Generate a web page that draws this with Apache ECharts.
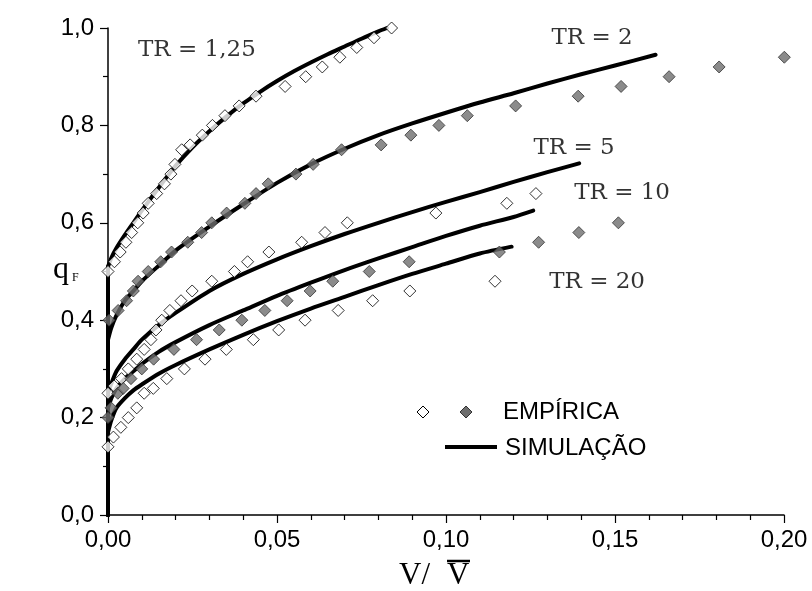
<!DOCTYPE html>
<html><head><meta charset="utf-8">
<script src="https://cdn.jsdelivr.net/npm/echarts@6/dist/echarts.min.js"></script>
<style>html,body{margin:0;padding:0;background:#fff}#c{width:812px;height:591px}</style>
</head><body><div id="c"></div>
<script>
// Empirical data (V/Vbar, qF)
const emp125V = [0,0.0019,0.0036,0.0053,0.0070,0.0088,0.0104,0.0119,0.0144,0.0167,0.0186,0.0198,0.0218,0.0243,0.0279,0.0309,0.0346,0.0388,0.0438,0.0524,0.0585,0.0634,0.0686,0.0736,0.0787,0.0839];
const emp125Q = [0.50,0.52,0.54,0.56,0.58,0.60,0.62,0.64,0.66,0.68,0.70,0.72,0.75,0.76,0.78,0.80,0.82,0.84,0.86,0.88,0.90,0.92,0.94,0.96,0.98,1.00];
const emp2V = [0.0003,0.0030,0.0055,0.0075,0.0089,0.0119,0.0156,0.0188,0.0236,0.0277,0.0307,0.0351,0.0405,0.0438,0.0474,0.0556,0.0607,0.0691,0.0808,0.0896,0.0979,0.1063,0.1206,0.1391,0.1518,0.1660,0.1808,0.2001];
const emp2Q = [0.40,0.42,0.44,0.46,0.48,0.50,0.52,0.54,0.56,0.58,0.60,0.62,0.64,0.66,0.68,0.70,0.72,0.75,0.76,0.78,0.80,0.82,0.84,0.86,0.88,0.90,0.92,0.94];
const emp5V = [0,0.0018,0.0040,0.0060,0.0085,0.0107,0.0127,0.0142,0.0159,0.0183,0.0216,0.0249,0.0307,0.0374,0.0413,0.0476,0.0573,0.0642,0.0708,0.0970,0.1180,0.1266];
const emp5Q = [0.25,0.265,0.28,0.30,0.32,0.34,0.36,0.38,0.40,0.42,0.44,0.46,0.48,0.50,0.52,0.54,0.56,0.58,0.60,0.62,0.64,0.66];
const emp10V = [0,0.0009,0.0029,0.0045,0.0068,0.0100,0.0135,0.0195,0.0262,0.0329,0.0396,0.0464,0.0530,0.0598,0.0665,0.0773,0.0891,0.1158,0.1274,0.1393,0.1510];
const emp10Q = [0.20,0.22,0.25,0.26,0.28,0.30,0.32,0.34,0.36,0.38,0.40,0.42,0.44,0.46,0.48,0.50,0.52,0.54,0.56,0.58,0.60];
const emp20V = [0,0.0016,0.0038,0.0060,0.0085,0.0107,0.0134,0.0174,0.0226,0.0287,0.0350,0.0430,0.0505,0.0583,0.0681,0.0783,0.0893,0.1145];
const emp20Q = [0.14,0.16,0.18,0.20,0.22,0.25,0.26,0.28,0.30,0.32,0.34,0.36,0.38,0.40,0.42,0.44,0.46,0.48];

// Simulation curves (each rises vertically from qF = 0 at V = 0 to its first value)
const sim125V = [0,0.001,0.0025,0.005,0.0075,0.010,0.015,0.020,0.025,0.030,0.035,0.040,0.045,0.050,0.055,0.060,0.065,0.070,0.075,0.080,0.0825];
const sim125Q = [0.51,0.528,0.548,0.575,0.600,0.625,0.672,0.717,0.755,0.788,0.818,0.845,0.869,0.891,0.911,0.929,0.946,0.962,0.978,0.993,1.0];
const sim2V = [0,0.001,0.0025,0.005,0.0075,0.010,0.015,0.020,0.030,0.040,0.050,0.060,0.070,0.080,0.090,0.100,0.110,0.120,0.130,0.140,0.150,0.162];
const sim2Q = [0.36,0.385,0.41,0.44,0.46,0.48,0.512,0.543,0.592,0.638,0.682,0.720,0.752,0.780,0.804,0.826,0.847,0.866,0.886,0.905,0.923,0.945];
const sim5V = [0,0.001,0.0025,0.005,0.0075,0.010,0.015,0.020,0.030,0.040,0.050,0.060,0.070,0.080,0.090,0.100,0.110,0.120,0.130,0.1394];
const sim5Q = [0.25,0.27,0.295,0.32,0.34,0.36,0.39,0.415,0.46,0.495,0.525,0.552,0.577,0.600,0.622,0.643,0.663,0.684,0.704,0.722];
const sim10V = [0,0.001,0.0025,0.005,0.0075,0.010,0.015,0.020,0.030,0.040,0.050,0.060,0.070,0.080,0.090,0.100,0.110,0.120,0.1258];
const sim10Q = [0.22,0.24,0.26,0.28,0.295,0.31,0.335,0.355,0.39,0.42,0.45,0.477,0.503,0.527,0.55,0.573,0.594,0.612,0.625];
const sim20V = [0,0.001,0.0025,0.005,0.0075,0.010,0.015,0.020,0.030,0.040,0.050,0.060,0.070,0.080,0.090,0.100,0.110,0.1194];
const sim20Q = [0.17,0.195,0.22,0.24,0.256,0.268,0.29,0.308,0.34,0.37,0.398,0.424,0.448,0.472,0.495,0.516,0.537,0.551];

// Labels
const yTicks = ['0,0','0,2','0,4','0,6','0,8','1,0'];
const xTicks = ['0,00','0,05','0,10','0,15','0,20'];
const curveLabels = [
  {text:'TR = 1,25', x:0.0263, y:0.955},
  {text:'TR = 2', x:0.1432, y:0.979},
  {text:'TR = 5', x:0.1379, y:0.754},
  {text:'TR = 10', x:0.1521, y:0.661},
  {text:'TR = 20', x:0.1447, y:0.478}
];
const legendTexts = ['EMPÍRICA','SIMULAÇÃO'];

const zip = (a,b)=>a.map((v,i)=>[v,b[i]]);
const openStyle = {color:'#ffffff', borderColor:'#000000', borderWidth:1};
const grayStyle = {color:'#6e6e6e', borderColor:'#333333', borderWidth:1};
function scat(v,q,st){return {type:'scatter',data:zip(v,q),symbol:'diamond',symbolSize:[12,12],itemStyle:st,clip:false,z:3,silent:true};}
function line(v,q){return [
  {type:'line',data:[[v[0],0],[v[0],q[0]]],showSymbol:false,lineStyle:{color:'#000',width:4,cap:'round'},z:2,silent:true},
  {type:'line',data:zip(v,q),showSymbol:false,smooth:0.25,lineStyle:{color:'#000',width:4,cap:'round',join:'round'},z:2,silent:true,clip:false}
];}
function diamond(cx,cy,fill,stroke){return {type:'polygon',shape:{points:[[cx,cy-6],[cx+6,cy],[cx,cy+6],[cx-6,cy]]},style:{fill:fill,stroke:stroke,lineWidth:1}};}

const chart = echarts.init(document.getElementById('c'),null,{renderer:'canvas'});
const series = [].concat(
  line(sim125V,sim125Q), line(sim2V,sim2Q), line(sim5V,sim5Q), line(sim10V,sim10Q), line(sim20V,sim20Q),
  [scat(emp125V,emp125Q,openStyle), scat(emp2V,emp2Q,grayStyle), scat(emp5V,emp5Q,openStyle),
  scat(emp10V,emp10Q,grayStyle), scat(emp20V,emp20Q,openStyle),
  {type:'scatter',data:curveLabels.map(l=>[l.x,l.y,l.text]),symbolSize:0,silent:true,
   label:{show:true,position:'inside',formatter:p=>p.data[2],fontFamily:'DejaVu Serif',fontSize:23,color:'#000'}}]
);
chart.setOption({
  animation:false,
  backgroundColor:'#fff',
  grid:{left:108,right:28,top:28,bottom:76},
  xAxis:{type:'value',min:0,max:0.2,interval:0.05,
    axisLine:{lineStyle:{color:'#000',width:1.5}},
    axisTick:{inside:false,length:8,lineStyle:{color:'#000',width:1.2}},
    minorTick:{show:true,splitNumber:5,length:5,lineStyle:{color:'#000',width:1.2}},
    splitLine:{show:false},
    axisLabel:{margin:13,fontSize:24,fontFamily:'Liberation Sans',color:'#000',formatter:v=>xTicks[Math.round(v/0.05)]}},
  yAxis:{type:'value',min:0,max:1,interval:0.2,
    axisLine:{lineStyle:{color:'#000',width:1.5}},
    axisTick:{inside:false,length:8,lineStyle:{color:'#000',width:1.2}},
    minorTick:{show:true,splitNumber:2,length:5,lineStyle:{color:'#000',width:1.2}},
    splitLine:{show:false},
    axisLabel:{margin:14,fontSize:24,fontFamily:'Liberation Sans',color:'#000',formatter:v=>yTicks[Math.round(v/0.2)]}},
  series:series,
  graphic:[
    {type:'text',x:399,y:591,style:{text:'V/',font:'31px "Liberation Serif"',fill:'#000',verticalAlign:'bottom'}},
    {type:'text',x:447,y:591,style:{text:'V',font:'31px "Liberation Serif"',fill:'#000',verticalAlign:'bottom'}},
    {type:'line',shape:{x1:447,y1:561,x2:470,y2:561},style:{stroke:'#000',lineWidth:2.5}},
    {type:'text',x:53,y:286,style:{text:'q',font:'32px "Liberation Serif"',fill:'#000',verticalAlign:'bottom'}},
    {type:'text',x:72,y:284,style:{text:'F',font:'12px "Liberation Serif"',fill:'#000',verticalAlign:'bottom'}},
    diamond(423,412,'#fff','#000'),
    diamond(466,412,'#6e6e6e','#333'),
    {type:'text',x:503,y:412,style:{text:legendTexts[0],font:'24px "Liberation Sans"',fill:'#000',verticalAlign:'middle'}},
    {type:'line',shape:{x1:445,y1:447,x2:497,y2:447},style:{stroke:'#000',lineWidth:4}},
    {type:'text',x:505,y:448,style:{text:legendTexts[1],font:'24px "Liberation Sans"',fill:'#000',verticalAlign:'middle'}}
  ]
});
</script></body></html>
